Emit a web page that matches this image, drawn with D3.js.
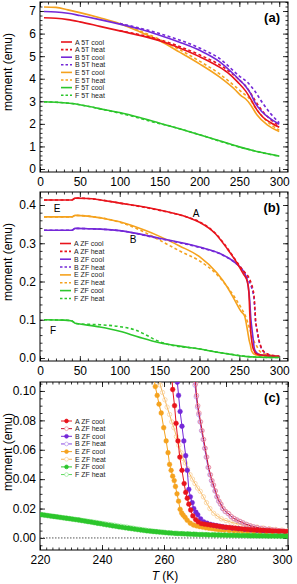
<!DOCTYPE html>
<html>
<head>
<meta charset="utf-8">
<script src="https://cdn.jsdelivr.net/npm/d3@7"></script>
<style>
  body { margin: 0; background: #fff; }
  svg { font-family: "Liberation Sans", Arial, sans-serif; }
</style>
</head>
<body>
<div id="viz"></div>
<script>
// moment vs temperature, three stacked panels

// ---- panel (a): 5 T field, [T, moment emu]
const a5Acool = [[5,6.70],[20,6.68],[35,6.62],[50,6.52],[75,6.32],[100,6.12],[125,5.92],[150,5.68],[175,5.36],[200,4.98],[220,4.62],[235,4.28],[248,3.85],[258,3.45],[265,3.05],[272,2.62],[280,2.28],[290,2.04],[300,1.85]];
const a5Aheat = [[100,6.13],[150,5.73],[200,5.06],[225,4.62],[250,3.95],[260,3.58],[270,3.02],[280,2.52],[290,2.17],[300,1.92]];
const a5Bcool = [[5,6.98],[20,6.96],[35,6.9],[50,6.8],[75,6.62],[100,6.42],[125,6.2],[150,5.93],[175,5.62],[200,5.26],[225,4.76],[240,4.3],[250,3.95],[258,3.66],[264,3.35],[270,2.92],[278,2.55],[288,2.25],[300,1.98]];
const a5Bheat = [[100,6.45],[150,6.0],[200,5.36],[225,4.9],[250,4.12],[260,3.85],[270,3.42],[280,2.88],[290,2.42],[300,2.05]];
const a5Ecool = [[5,7.18],[20,7.16],[35,7.05],[50,6.93],[75,6.7],[100,6.44],[125,6.08],[150,5.68],[175,5.18],[200,4.66],[225,4.08],[245,3.5],[252,3.25],[258,3.1],[264,2.85],[272,2.4],[285,1.95],[300,1.66]];
const a5Eheat = [[100,6.46],[150,5.74],[200,4.78],[225,4.22],[245,3.65],[255,3.35],[262,3.15],[270,2.72],[285,2.1],[300,1.72]];
const a5Fcool = [[5,2.98],[25,2.95],[40,2.9],[60,2.78],[80,2.64],[100,2.5],[125,2.28],[150,2.03],[175,1.78],[200,1.52],[225,1.25],[250,0.98],[275,0.75],[300,0.57]];
const a5Fheat = [[5,2.98],[40,2.9],[80,2.63],[120,2.3],[140,2.1],[160,1.93],[200,1.52],[250,0.97],[300,0.56]];

// ---- panel (b): zero field
const zfAcool = [[5,0.413],[40,0.413],[44,0.418],[60,0.417],[100,0.405],[150,0.387],[185,0.368],[200,0.355],[220,0.325],[235,0.285],[245,0.255],[255,0.22],[260,0.2],[262,0.17],[263,0.12],[264,0.075],[265.5,0.045],[267,0.027],[268.6,0.019],[270,0.013],[273,0.0095],[280,0.0073],[300,0.0043]];
const zfAheat = [[5,0.413],[40,0.413],[44,0.418],[60,0.417],[100,0.405],[150,0.386],[185,0.368],[200,0.356],[220,0.326],[235,0.287],[245,0.257],[255,0.228],[262,0.21],[265,0.195],[267,0.18],[268.5,0.16],[269.5,0.13],[270.3,0.1],[271.8,0.079],[273.3,0.061],[274.4,0.048],[276,0.036],[278.4,0.023],[280.9,0.0165],[283.6,0.0122],[287.9,0.0082],[293.8,0.0059],[300,0.0044]];
const zfBcool = [[5,0.334],[40,0.334],[44,0.339],[60,0.338],[100,0.333],[150,0.313],[200,0.29],[225,0.274],[243,0.252],[252,0.235],[258,0.215],[261,0.19],[263,0.15],[264.3,0.106],[265.2,0.086],[266,0.072],[267.5,0.046],[268.5,0.028],[269.6,0.02],[271,0.0155],[274,0.01],[280,0.0072],[300,0.0041]];
const zfBheat = [[5,0.334],[40,0.334],[44,0.339],[60,0.338],[100,0.333],[150,0.312],[200,0.289],[225,0.273],[243,0.252],[252,0.236],[258,0.217],[262,0.202],[265,0.187],[267,0.172],[268.5,0.152],[269.4,0.125],[270.1,0.1],[271.6,0.079],[273.1,0.061],[274.2,0.048],[275.8,0.036],[278.2,0.023],[280.7,0.0165],[283.4,0.0122],[287.7,0.0082],[293.6,0.0058],[300,0.0043]];
const zfEcool = [[5,0.369],[40,0.369],[44,0.373],[60,0.371],[100,0.356],[130,0.335],[150,0.318],[175,0.293],[200,0.265],[222,0.222],[235,0.185],[245,0.148],[252,0.122],[256.6,0.11],[259.1,0.085],[260.7,0.066],[262.3,0.046],[263.7,0.035],[265.2,0.0195],[266.8,0.014],[268.5,0.01],[272,0.0075],[280,0.0052],[290,0.0037],[300,0.003]];
const zfEheat = [[5,0.369],[40,0.369],[44,0.373],[60,0.371],[100,0.355],[130,0.33],[150,0.308],[175,0.28],[200,0.254],[222,0.218],[235,0.186],[245,0.156],[252,0.132],[256,0.117],[258.8,0.104],[261,0.089],[263.2,0.075],[265.5,0.058],[266.9,0.051],[269.2,0.04],[271.7,0.0317],[274.8,0.02],[278.5,0.013],[283,0.01],[290,0.0074],[300,0.005]];
const zfFcool = [[5,0.1],[30,0.099],[40,0.097],[44,0.091],[50,0.089],[75,0.081],[100,0.07],[125,0.054],[150,0.04],[175,0.031],[200,0.0235],[220,0.0158],[240,0.0095],[250,0.006],[260,0.0036],[275,0.0022],[300,0.0012]];
const zfFheat = [[5,0.1],[30,0.099],[40,0.097],[44,0.091],[50,0.089],[75,0.087],[100,0.082],[120,0.073],[135,0.058],[145,0.047],[160,0.036],[200,0.024],[220,0.016],[240,0.0099],[250,0.0067],[260,0.0039],[275,0.0023],[300,0.0013]];

// ---- panel (c): zero field, zoom on the transition (measured points)
const cAcool = [[262.5,0.112],[262.8,0.101],[263.4,0.090],[263.9,0.078],[264.5,0.066],[265.1,0.055],[265.8,0.046],[266.5,0.037],[267.0,0.031],[267.5,0.027],[268.0,0.023],[268.6,0.019],[269.3,0.015],[270.2,0.0125],[271.0,0.011],[272.0,0.0098],[273,0.0094],[274,0.0091],[275,0.0088],[276,0.0085],[277,0.0082],[278,0.0079],[279,0.0076],[280,0.0073],[281,0.0071],[282,0.0068],[283,0.0066],[284,0.0064],[285,0.0062],[286,0.006],[287,0.0058],[288,0.0057],[289,0.0055],[290,0.0054],[291,0.0052],[292,0.0051],[293,0.005],[294,0.0049],[295,0.0048],[296,0.0047],[297,0.0046],[298,0.0045],[299,0.0044],[300,0.0043]];
const cAheat = [[269.9,0.112],[270.2,0.105],[270.5,0.097],[270.9,0.09],[271.3,0.085],[271.8,0.079],[272.3,0.073],[272.8,0.067],[273.3,0.061],[273.8,0.055],[274.4,0.048],[275,0.043],[275.5,0.039],[276,0.036],[276.6,0.032],[277.2,0.028],[277.8,0.025],[278.4,0.023],[279.1,0.02],[279.9,0.018],[280.9,0.0165],[281.8,0.0145],[282.7,0.0132],[283.6,0.0122],[284.6,0.0112],[285.6,0.0102],[286.7,0.0092],[287.9,0.0082],[289,0.0075],[290.2,0.007],[291.4,0.0065],[292.6,0.0062],[293.8,0.0059],[295,0.0056],[296.2,0.0053],[297.4,0.005],[298.6,0.0047],[300,0.0044]];
const cBcool = [[264.0,0.112],[264.3,0.106],[264.7,0.097],[265.2,0.086],[265.8,0.076],[266.4,0.066],[267.0,0.056],[267.5,0.046],[268.0,0.033],[268.5,0.028],[269.1,0.024],[269.6,0.02],[270.3,0.0175],[270.9,0.0157],[271.8,0.013],[272.8,0.011],[273.9,0.01],[275,0.0092],[276,0.0087],[277,0.0083],[278,0.0079],[279,0.0075],[280,0.0072],[282,0.0067],[284,0.0063],[286,0.0059],[288,0.0055],[290,0.0052],[292,0.0049],[294,0.0047],[296,0.0045],[298,0.0043],[300,0.0041]];
const cBheat = [[269.7,0.112],[270.0,0.104],[270.4,0.096],[270.8,0.089],[271.2,0.084],[271.6,0.079],[272.1,0.073],[272.6,0.067],[273.1,0.061],[273.6,0.055],[274.2,0.048],[274.8,0.043],[275.3,0.039],[275.8,0.036],[276.4,0.032],[277,0.028],[277.6,0.025],[278.2,0.023],[278.9,0.02],[279.7,0.018],[280.7,0.0165],[281.6,0.0145],[282.5,0.0132],[283.4,0.0122],[284.4,0.0112],[285.4,0.0102],[286.5,0.0092],[287.7,0.0082],[288.8,0.0075],[290,0.007],[291.2,0.0065],[292.4,0.0061],[293.6,0.0058],[294.8,0.0055],[296,0.0052],[297.2,0.0049],[298.4,0.0046],[299.8,0.0043]];
const cEcool = [[256.6,0.110],[257.2,0.103],[257.8,0.097],[258.4,0.091],[259.1,0.085],[259.9,0.075],[260.7,0.066],[261.3,0.058],[261.8,0.05],[262.3,0.046],[262.8,0.042],[263.3,0.039],[263.7,0.035],[264.2,0.03],[264.7,0.025],[265.2,0.0195],[265.7,0.017],[266.2,0.0155],[266.8,0.014],[267.5,0.012],[268.5,0.01],[269.5,0.0088],[270.5,0.0082],[271.5,0.0077],[272.5,0.0073],[273.5,0.0069],[274.5,0.0066],[275.5,0.0063],[276.5,0.006],[277.5,0.0057],[278.5,0.0055],[279.5,0.0053],[281,0.005],[282.5,0.0047],[284,0.0045],[285.5,0.0043],[287,0.0041],[289,0.0038],[291,0.0036],[293,0.0034],[295,0.0033],[297,0.0031],[300,0.003]];
const cEheat = [[258.3,0.110],[258.8,0.104],[259.5,0.099],[260.3,0.094],[261.0,0.089],[261.8,0.084],[262.5,0.079],[263.2,0.075],[264.0,0.069],[264.8,0.063],[265.5,0.058],[266.2,0.054],[266.9,0.051],[267.6,0.047],[268.4,0.043],[269.2,0.04],[270,0.037],[270.8,0.034],[271.7,0.0317],[272.7,0.028],[273.7,0.024],[274.8,0.02],[276,0.0168],[277.2,0.0148],[278.5,0.013],[280,0.0118],[281.5,0.0108],[283,0.01],[284.5,0.0093],[286,0.0087],[288,0.008],[290,0.0074],[292,0.0068],[294,0.0063],[296,0.0058],[298,0.0054],[300,0.005]];
const cFcool = [[220.5,0.0158],[221.5,0.0155],[222.5,0.0152],[223.5,0.0149],[224.5,0.0146],[225.5,0.0143],[226.5,0.014],[227.5,0.0137],[228.5,0.0134],[229.5,0.0131],[230.5,0.0128],[231.5,0.0125],[232.5,0.0122],[233.5,0.0118],[234.5,0.0115],[235.5,0.0111],[236.5,0.0108],[237.5,0.0104],[238.5,0.01],[239.5,0.0097],[240.5,0.0093],[241.5,0.0089],[242.5,0.0086],[243.5,0.0082],[244.5,0.0079],[245.5,0.0075],[246.5,0.0072],[247.5,0.0069],[248.5,0.0066],[249.5,0.0063],[250.5,0.006],[251.5,0.0057],[252.5,0.0054],[253.5,0.0051],[254.5,0.0048],[255.5,0.0046],[256.5,0.0044],[257.5,0.0042],[258.5,0.004],[259.5,0.0038],[260.5,0.0036],[261.5,0.0034],[262.5,0.0033],[263.5,0.0031],[264.5,0.003],[265.5,0.0029],[266.5,0.0028],[267.5,0.0027],[268.5,0.0026],[269.5,0.0025],[270.5,0.0024],[271.5,0.0023],[272.5,0.0023],[273.5,0.0022],[274.5,0.0021],[275.5,0.0021],[276.5,0.002],[277.5,0.002],[278.5,0.0019],[279.5,0.0019],[280.5,0.0018],[281.5,0.0018],[282.5,0.0017],[283.5,0.0017],[284.5,0.0016],[285.5,0.0016],[286.5,0.0016],[287.5,0.0015],[288.5,0.0015],[289.5,0.0015],[290.5,0.0014],[291.5,0.0014],[292.5,0.0014],[293.5,0.0013],[294.5,0.0013],[295.5,0.0013],[296.5,0.0013],[297.5,0.0012],[298.5,0.0012],[299.5,0.0012]];
const cFheat = [[221,0.0157],[222,0.0154],[223,0.0151],[224,0.0148],[225,0.0145],[226,0.0142],[227,0.0139],[228,0.0136],[229,0.0133],[230,0.013],[231,0.0127],[232,0.0124],[233,0.0121],[234,0.0118],[235,0.0115],[236,0.0112],[237,0.0109],[238,0.0106],[239,0.0102],[240,0.0099],[241,0.0096],[242,0.0093],[243,0.009],[244,0.0087],[245,0.0083],[246,0.008],[247,0.0077],[248,0.0074],[249,0.007],[250,0.0067],[251,0.0063],[252,0.006],[253,0.0057],[254,0.0054],[255,0.0051],[256,0.0048],[257,0.0045],[258,0.0043],[259,0.0041],[260,0.0039],[262,0.0035],[264,0.0032],[266,0.003],[268,0.0028],[270,0.0026],[272,0.0024],[274,0.0023],[276,0.0022],[278,0.0021],[280,0.002],[282,0.0019],[284,0.0018],[286,0.0017],[288,0.0016],[290,0.0016],[292,0.0015],[294,0.0015],[296,0.0014],[298,0.0014],[300,0.0013]];

const xTicksAB = [0, 50, 100, 150, 200, 250, 300];
const yTicksA = [0, 1, 2, 3, 4, 5, 6, 7];
const yTicksB = [0.0, 0.1, 0.2, 0.3, 0.4];
const xTicksC = [220, 240, 260, 280, 300];
const yTicksC = [0.00, 0.02, 0.04, 0.06, 0.08, 0.10];

const RED = "#e8141c", PURPLE = "#7428d8", ORANGE = "#f5a21e", GREEN = "#2cc62c";

const width = 297, height = 584;
const svg = d3.select("#viz").append("svg")
    .attr("width", width).attr("height", height);

const L = 40, R = 288;

function makePanel(id, top, bottom, xDom, yDom, xMaj, xMinStep, yMaj, yMinStep, yFmt, tag) {
    const x = d3.scaleLinear().domain(xDom).range([L, R]);
    const y = d3.scaleLinear().domain(yDom).range([bottom, top]);
    const g = svg.append("g");

    svg.append("clipPath").attr("id", "clip" + id)
        .append("rect").attr("x", L).attr("y", top).attr("width", R - L).attr("height", bottom - top);

    const xMin = d3.range(Math.ceil(xDom[0] / xMinStep) * xMinStep, xDom[1] + 1e-9, xMinStep);
    const yMin = d3.range(Math.ceil(yDom[0] / yMinStep - 1e-9) * yMinStep, yDom[1] + 1e-9, yMinStep);

    const axes = g.append("g").attr("class", "axes");
    const add = (axis, tr) => {
        const a = axes.append("g").attr("transform", tr).call(axis);
        a.select(".domain").remove();
        a.selectAll("line").attr("stroke", "#000").attr("stroke-width", 0.8);
        a.selectAll("text").attr("font-size", 12).attr("fill", "#000");
        return a;
    };
    // major ticks, inward on all four sides
    const xb = add(d3.axisBottom(x).tickValues(xMaj).tickSize(-5).tickPadding(5).tickFormat(d3.format("d")), `translate(0,${bottom})`);
    // keep a label sitting on the right frame inside the page
    xb.selectAll(".tick text").filter(d => x(d) > R - 4).attr("dx", -6);
    add(d3.axisTop(x).tickValues(xMaj).tickSize(-5).tickFormat(""), `translate(0,${top})`);
    add(d3.axisLeft(y).tickValues(yMaj).tickSize(-5).tickPadding(4).tickFormat(yFmt), `translate(${L},0)`);
    add(d3.axisRight(y).tickValues(yMaj).tickSize(-5).tickFormat(""), `translate(${R},0)`);
    // minor ticks
    add(d3.axisBottom(x).tickValues(xMin).tickSize(-2.5).tickFormat(""), `translate(0,${bottom})`);
    add(d3.axisTop(x).tickValues(xMin).tickSize(-2.5).tickFormat(""), `translate(0,${top})`);
    add(d3.axisLeft(y).tickValues(yMin).tickSize(-2.5).tickFormat(""), `translate(${L},0)`);
    add(d3.axisRight(y).tickValues(yMin).tickSize(-2.5).tickFormat(""), `translate(${R},0)`);

    g.append("rect").attr("x", L).attr("y", top).attr("width", R - L).attr("height", bottom - top)
        .attr("fill", "none").attr("stroke", "#000").attr("stroke-width", 1);

    g.append("text").attr("x", 280).attr("y", top + 20)
        .attr("text-anchor", "end").attr("font-size", 13).attr("font-weight", "bold").text(tag);

    g.append("text")
        .attr("transform", `translate(12,${top + 70}) rotate(-90)`)
        .attr("text-anchor", "middle").attr("font-size", 12).text("moment  (emu)");

    const plot = g.append("g").attr("clip-path", `url(#clip${id})`);
    return { x, y, g, plot };
}

function legendLines(g, x0, y0, dy, items) {
    items.forEach((s, i) => {
        const yy = y0 + i * dy;
        g.append("line").attr("x1", x0).attr("x2", x0 + 11).attr("y1", yy).attr("y2", yy)
            .attr("stroke", s.color).attr("stroke-width", 1.6)
            .attr("stroke-dasharray", s.dash ? "2.5,2" : null);
        g.append("text").attr("x", x0 + 14).attr("y", yy + 2.5)
            .attr("font-size", 7).attr("fill", "#222").text(s.name);
    });
}

function drawLines(p, items) {
    const line = d3.line().x(d => p.x(d[0])).y(d => p.y(d[1])).curve(d3.curveMonotoneX);
    items.forEach(s => {
        p.plot.append("path").datum(s.data).attr("d", line)
            .attr("fill", "none").attr("stroke", s.color).attr("stroke-width", 1.6)
            .attr("stroke-dasharray", s.dash ? "3,2.5" : null);
    });
}

// ---- (a)
const pa = makePanel("a", 2, 172, [0, 311], [-0.133, 7.4], xTicksAB, 10, yTicksA, 0.2, d3.format("d"), "(a)");
const seriesA = [
    { name: "A 5T cool", data: a5Acool, color: RED },
    { name: "A 5T heat", data: a5Aheat, color: RED, dash: true },
    { name: "B 5T cool", data: a5Bcool, color: PURPLE },
    { name: "B 5T heat", data: a5Bheat, color: PURPLE, dash: true },
    { name: "E 5T cool", data: a5Ecool, color: ORANGE },
    { name: "E 5T heat", data: a5Eheat, color: ORANGE, dash: true },
    { name: "F 5T cool", data: a5Fcool, color: GREEN },
    { name: "F 5T heat", data: a5Fheat, color: GREEN, dash: true }
];
drawLines(pa, [seriesA[4], seriesA[5], seriesA[0], seriesA[1], seriesA[2], seriesA[3], seriesA[6], seriesA[7]]);
legendLines(pa.g, 61, 42, 7.6, seriesA);

// ---- (b)
const pb = makePanel("b", 192, 361, [0, 311], [-0.0078, 0.434], xTicksAB, 10, yTicksB, 0.02, d3.format(".1f"), "(b)");
const seriesB = [
    { name: "A ZF cool", data: zfAcool, color: RED },
    { name: "A ZF heat", data: zfAheat, color: RED, dash: true },
    { name: "B ZF cool", data: zfBcool, color: PURPLE },
    { name: "B ZF heat", data: zfBheat, color: PURPLE, dash: true },
    { name: "E ZF cool", data: zfEcool, color: ORANGE },
    { name: "E ZF heat", data: zfEheat, color: ORANGE, dash: true },
    { name: "F ZF cool", data: zfFcool, color: GREEN },
    { name: "F ZF heat", data: zfFheat, color: GREEN, dash: true }
];
drawLines(pb, [seriesB[5], seriesB[4], seriesB[3], seriesB[2], seriesB[1], seriesB[0], seriesB[7], seriesB[6]]);
legendLines(pb.g, 60, 243.5, 7.85, seriesB);
[["E", 57, 212], ["A", 196, 217], ["B", 133, 243], ["F", 53, 334]].forEach(t => {
    pb.g.append("text").attr("x", t[1]).attr("y", t[2]).attr("text-anchor", "middle")
        .attr("font-size", 10).text(t[0]);
});

// ---- (c)
const pc = makePanel("c", 382, 550, [220, 300], [-0.0082, 0.1061], xTicksC, 2, yTicksC, 0.005, d3.format(".2f"), "(c)");
const seriesC = [
    { name: "A ZF cool", data: cAcool, line: RED, fill: RED, stroke: RED },
    { name: "A ZF heat", data: cAheat, line: "#c8102e", fill: "none", stroke: "#f08a96" },
    { name: "B ZF cool", data: cBcool, line: PURPLE, fill: PURPLE, stroke: PURPLE },
    { name: "B ZF heat", data: cBheat, line: "#8a48e0", fill: "none", stroke: "#b896ee" },
    { name: "E ZF cool", data: cEcool, line: ORANGE, fill: ORANGE, stroke: ORANGE },
    { name: "E ZF heat", data: cEheat, line: "#f7b658", fill: "none", stroke: "#f9d09a" },
    { name: "F ZF cool", data: cFcool, line: GREEN, fill: GREEN, stroke: GREEN },
    { name: "F ZF heat", data: cFheat, line: "#60d860", fill: "none", stroke: "#98ea98" }
];
pc.plot.append("line").attr("x1", L).attr("x2", R).attr("y1", pc.y(0)).attr("y2", pc.y(0))
    .attr("stroke", "#555").attr("stroke-width", 1).attr("stroke-dasharray", "1.5,1.5");

const lineC = d3.line().x(d => pc.x(d[0])).y(d => pc.y(d[1]));
[5, 4, 3, 2, 1, 0, 7, 6].map(i => seriesC[i]).forEach(s => {
    const gg = pc.plot.append("g");
    gg.append("path").datum(s.data).attr("d", lineC)
        .attr("fill", "none").attr("stroke", s.line).attr("stroke-width", 1);
    gg.selectAll("circle").data(s.data).join("circle")
        .attr("cx", d => pc.x(d[0])).attr("cy", d => pc.y(d[1]))
        .attr("r", s.fill === "none" ? 2.2 : 2.4)
        .attr("fill", s.fill === "none" ? "none" : s.fill)
        .attr("stroke", s.stroke).attr("stroke-width", s.fill === "none" ? 0.8 : 0.4);
});
seriesC.forEach((s, i) => {
    const yy = 421 + i * 7.65, x0 = 61;
    pc.g.append("line").attr("x1", x0).attr("x2", x0 + 11).attr("y1", yy).attr("y2", yy)
        .attr("stroke", s.line).attr("stroke-width", 1);
    pc.g.append("circle").attr("cx", x0 + 5.5).attr("cy", yy).attr("r", 1.9)
        .attr("fill", s.fill === "none" ? "#fff" : s.fill).attr("stroke", s.stroke).attr("stroke-width", 0.7);
    pc.g.append("text").attr("x", x0 + 14).attr("y", yy + 2.5)
        .attr("font-size", 7).attr("fill", "#222").text(s.name);
});

const tt = svg.append("text").attr("x", 165).attr("y", 580).attr("text-anchor", "middle").attr("font-size", 12);
tt.append("tspan").attr("font-style", "italic").text("T");
tt.append("tspan").text("  (K)");
</script>
</body>
</html>
